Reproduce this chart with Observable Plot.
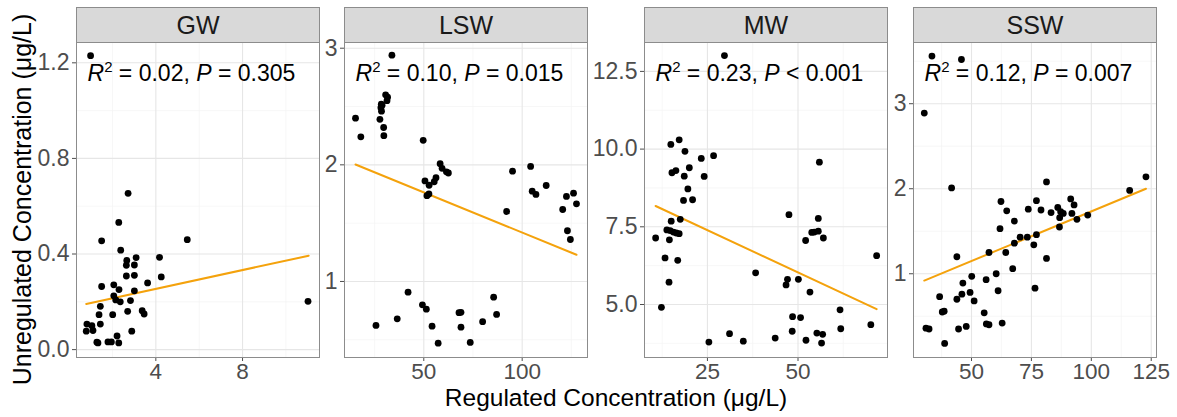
<!DOCTYPE html>
<html>
<head>
<meta charset="utf-8">
<script src="https://cdn.jsdelivr.net/npm/d3@7"></script>
<script src="https://cdn.jsdelivr.net/npm/@observablehq/plot@0.6"></script>
<style>
  html, body { margin: 0; padding: 0; background: #fff; }
  #wrap { position: relative; width: 1177px; height: 417px; overflow: hidden; background: #fff;
          font-family: "Liberation Sans", Arial, sans-serif; }
  #wrap svg { position: absolute; top: 0; }
  .strip { position: absolute; top: 7px; height: 36px; box-sizing: border-box; background: #d9d9d9;
           border: 1px solid #8c8c8c; color: #1a1a1a; font-size: 25px; line-height: 34px; text-align: center; }
  .xtitle { position: absolute; top: 388px; left: 316px; width: 600px; text-align: center; font-size: 24.5px; line-height: 20px; color: #000; }
  .ytitle { position: absolute; left: -188px; top: 187px; width: 420px; text-align: center; font-size: 25px; line-height: 25px;
            color: #000; transform: rotate(-90deg); transform-origin: 50% 50%; }
</style>
</head>
<body>
<div id="wrap"></div>
<script>
// ---------- data ----------
const panels = ["GW", "LSW", "MW", "SSW"];

const gwX = [0.99, 2.72, 2.29, 1.50, 5.45, 2.38, 2.66, 3.09, 2.64, 3.01, 4.17, 2.64, 3.01, 4.25, 3.62, 1.50, 2.06, 2.30, 3.01, 2.06, 2.15, 2.36, 2.83, 1.44, 2.70, 3.37, 3.46, 1.38, 2.01, 1.44, 0.82, 1.05, 1.10, 0.79, 2.89, 1.28, 1.33, 1.79, 1.95, 2.21, 2.29, 11.02];
const gwY = [1.23, 0.654, 0.532, 0.455, 0.46, 0.416, 0.373, 0.385, 0.353, 0.354, 0.386, 0.308, 0.311, 0.304, 0.279, 0.264, 0.271, 0.251, 0.246, 0.225, 0.208, 0.2, 0.205, 0.181, 0.16, 0.163, 0.149, 0.146, 0.146, 0.107, 0.107, 0.1, 0.08, 0.077, 0.077, 0.031, 0.028, 0.032, 0.032, 0.057, 0.028, 0.202];

const lswX = [33.8, 15.3, 18.0, 30.6, 31.6, 31.3, 28.4, 28.8, 28.2, 28.5, 27.7, 29.6, 29.7, 49.7, 58.3, 59.3, 61.5, 62.5, 56.2, 55.3, 52.7, 50.6, 51.6, 52.6, 92.1, 95.1, 104.3, 105.1, 107.0, 112.2, 120.6, 122.5, 126.1, 127.6, 123.0, 124.5, 25.7, 36.5, 42.0, 49.3, 51.3, 54.2, 57.3, 67.9, 68.9, 68.9, 73.6, 79.9, 85.5, 87.0];
const lswY = [2.94, 2.40, 2.24, 2.60, 2.58, 2.55, 2.52, 2.51, 2.49, 2.46, 2.39, 2.32, 2.25, 2.21, 2.01, 1.97, 1.94, 1.93, 1.89, 1.855, 1.825, 1.862, 1.736, 1.75, 1.60, 1.946, 1.986, 1.774, 1.746, 1.823, 1.617, 1.729, 1.757, 1.666, 1.435, 1.36, 0.623, 0.68, 0.908, 0.80, 0.762, 0.617, 0.471, 0.732, 0.735, 0.608, 0.477, 0.655, 0.865, 0.717];

const mwX = [29.7, 17.2, 14.9, 18.8, 23.3, 26.7, 15.2, 16.3, 20.0, 18.6, 24.1, 19.6, 18.4, 20.9, 15.0, 17.5, 13.8, 14.7, 15.6, 16.4, 17.2, 10.7, 14.5, 16.8, 13.3, 14.4, 12.3, 25.4, 31.1, 34.9, 38.3, 43.7, 47.5, 46.7, 47.1, 50.1, 48.5, 50.7, 48.4, 52.1, 53.8, 54.5, 55.6, 55.6, 55.9, 57.0, 53.3, 52.2, 55.2, 56.8, 56.5, 61.6, 61.8, 70.1, 71.7];
const mwY = [13.01, 10.30, 10.15, 9.93, 9.70, 9.79, 9.24, 9.31, 9.40, 9.13, 9.12, 8.72, 8.35, 8.37, 7.68, 7.74, 7.40, 7.38, 7.33, 7.30, 7.28, 7.14, 7.08, 6.42, 6.50, 5.72, 4.91, 3.79, 4.06, 3.82, 6.02, 3.92, 7.89, 5.63, 5.81, 5.81, 4.61, 4.58, 4.14, 7.06, 7.32, 7.33, 7.36, 7.77, 9.58, 7.14, 5.40, 3.85, 4.08, 4.04, 3.76, 4.83, 4.22, 4.35, 6.57];

const sswX = [33.5, 45.8, 30.3, 41.7, 81.3, 116.0, 122.8, 62.3, 64.7, 77.1, 79.0, 73.7, 83.2, 91.4, 92.8, 86.0, 87.2, 88.3, 86.8, 91.9, 94.0, 98.5, 86.7, 67.9, 61.9, 70.3, 73.3, 77.1, 67.9, 76.0, 57.3, 64.3, 81.3, 43.9, 67.2, 60.3, 50.1, 56.1, 46.4, 76.5, 61.1, 36.7, 46.0, 49.4, 43.9, 51.1, 37.8, 38.6, 55.3, 56.2, 57.3, 62.8, 31.0, 32.3, 44.6, 47.8, 38.8];
const sswY = [3.56, 3.52, 2.89, 2.01, 2.08, 1.98, 2.14, 1.85, 1.74, 1.86, 1.75, 1.76, 1.72, 1.88, 1.81, 1.78, 1.73, 1.71, 1.66, 1.71, 1.64, 1.69, 1.55, 1.62, 1.53, 1.43, 1.43, 1.46, 1.36, 1.34, 1.25, 1.25, 1.18, 1.20, 1.06, 1.00, 0.97, 0.93, 0.89, 0.83, 0.80, 0.73, 0.76, 0.78, 0.70, 0.68, 0.55, 0.56, 0.54, 0.41, 0.40, 0.42, 0.36, 0.35, 0.35, 0.38, 0.18];

// fitted regression line end points
const gwFitX = [0.79, 11.05],  gwFitY = [0.191, 0.393];
const lswFitX = [15.3, 127.6], lswFitY = [2.003, 1.229];
const mwFitX = [10.7, 71.7],   mwFitY = [8.17, 4.85];
const sswFitX = [30.3, 122.8], sswFitY = [0.92, 2.00];

// annotation parts
const annR2 = ["0.02", "0.10", "0.23", "0.12"];
const annPOp = ["=", "=", "<", "="];
const annP  = ["0.305", "0.015", "0.001", "0.007"];

// tick values
const gwXTicks = [4, 8],            gwXMinor = [2, 6, 10];
const gwYTicks = [0, 0.4, 0.8, 1.2], gwYMinor = [0.2, 0.6, 1.0];
const lswXTicks = [50, 100],        lswXMinor = [25, 75, 125];
const lswYTicks = [1, 2, 3],        lswYMinor = [0.5, 1.5, 2.5];
const mwXTicks = [25, 50],          mwXMinor = [12.5, 37.5, 62.5];
const mwYTicks = [5, 7.5, 10, 12.5], mwYMinor = [3.75, 6.25, 8.75, 11.25];
const sswXTicks = [50, 75, 100, 125], sswXMinor = [37.5, 62.5, 87.5, 112.5];
const sswYTicks = [1, 2, 3],        sswYMinor = [0.5, 1.5, 2.5, 3.5];

// scale domains (panel extents)
const gwXDomain = [0.34, 11.55],  gwYDomain = [-0.033, 1.285];
const lswXDomain = [9.7, 133.2],  lswYDomain = [0.348, 3.049];
const mwXDomain = [7.63, 74.7],   mwYDomain = [3.295, 13.43];
const sswXDomain = [25.8, 127.2], sswYDomain = [0.015, 3.72];

const xTitle = "Regulated Concentration (μg/L)";
const yTitle = "Unregulated Concentration (μg/L)";

// ---------- layout ----------
const panelLeft = [76, 344, 644, 913];
const panelW = 243;
const marginLeft = [76, 30, 56, 30];
const marginRight = 12;

const cfgs = [
  {x: gwX, y: gwY, fx: gwFitX, fy: gwFitY, xt: gwXTicks, xm: gwXMinor, yt: gwYTicks, ym: gwYMinor, xd: gwXDomain, yd: gwYDomain, yf: d3.format(".1f")},
  {x: lswX, y: lswY, fx: lswFitX, fy: lswFitY, xt: lswXTicks, xm: lswXMinor, yt: lswYTicks, ym: lswYMinor, xd: lswXDomain, yd: lswYDomain, yf: d3.format("d")},
  {x: mwX, y: mwY, fx: mwFitX, fy: mwFitY, xt: mwXTicks, xm: mwXMinor, yt: mwYTicks, ym: mwYMinor, xd: mwXDomain, yd: mwYDomain, yf: d3.format(".1f")},
  {x: sswX, y: sswY, fx: sswFitX, fy: sswFitY, xt: sswXTicks, xm: sswXMinor, yt: sswYTicks, ym: sswYMinor, xd: sswXDomain, yd: sswYDomain, yf: d3.format("d")}
];

const wrap = document.getElementById("wrap");
const FONT = "Liberation Sans, Arial, sans-serif";

cfgs.forEach((c, i) => {
  const pts = c.x.map((x, k) => ({x, y: c.y[k]}));
  const fit = c.fx.map((x, k) => ({x, y: c.fy[k]}));
  const ann = [`R² = ${annR2[i]}, P ${annPOp[i]} ${annP[i]}`];
  const ml = marginLeft[i];
  const svg = Plot.plot({
    width: ml + panelW + marginRight,
    height: 390,
    marginLeft: ml, marginRight: marginRight, marginTop: 42, marginBottom: 33,
    x: {domain: c.xd, label: null},
    y: {domain: c.yd, label: null},
    style: {background: "transparent", fontFamily: FONT, fontSize: "23px", overflow: "visible"},
    marks: [
      Plot.gridX(c.xm, {stroke: "#f3f3f3", strokeOpacity: 1, strokeWidth: 0.7}),
      Plot.gridY(c.ym, {stroke: "#f3f3f3", strokeOpacity: 1, strokeWidth: 0.7}),
      Plot.gridX(c.xt, {stroke: "#e6e6e6", strokeOpacity: 1, strokeWidth: 1.1}),
      Plot.gridY(c.yt, {stroke: "#e6e6e6", strokeOpacity: 1, strokeWidth: 1.1}),
      Plot.axisX(c.xt, {tickSize: 4, tickPadding: 2, color: "#4d4d4d", fontSize: 22.5, label: null, tickFormat: d3.format("d")}),
      Plot.axisY(c.yt, {tickSize: 4, tickPadding: 3, color: "#4d4d4d", fontSize: 23, label: null, tickFormat: c.yf}),
      Plot.line(fit, {x: "x", y: "y", stroke: "#f4a20c", strokeWidth: 2}),
      Plot.dot(pts, {x: "x", y: "y", r: 3.4, fill: "#000", stroke: null}),
      Plot.frame({stroke: "#8c8c8c", strokeWidth: 1}),
      Plot.text(ann, {frameAnchor: "top-left", dx: 11, dy: 22, lineAnchor: "top", textAnchor: "start", fontSize: 23, fill: "#000", ariaLabel: "annotation"})
    ]
  });
  svg.style.left = (panelLeft[i] - ml) + "px";
  wrap.appendChild(svg);

  // rich formatting of the statistic label: italic R and P, superscript 2
  svg.querySelectorAll("text").forEach(t => {
    if (t.textContent !== ann[0]) return;
    const ns = "http://www.w3.org/2000/svg";
    while (t.firstChild) t.removeChild(t.firstChild);
    const parts = [
      ["R", {"font-style": "italic"}],
      ["2", {"font-size": "15px", "dy": "-9"}],
      [` = ${annR2[i]}, `, {"dy": "9"}],
      ["P", {"font-style": "italic"}],
      [` ${annPOp[i]} ${annP[i]}`, {}]
    ];
    parts.forEach(([s, attrs]) => {
      const ts = document.createElementNS(ns, "tspan");
      ts.textContent = s;
      for (const k in attrs) ts.setAttribute(k, attrs[k]);
      t.appendChild(ts);
    });
  });

  const strip = document.createElement("div");
  strip.className = "strip";
  strip.style.left = panelLeft[i] + "px";
  strip.style.width = (panelW + 1) + "px";
  strip.textContent = panels[i];
  wrap.appendChild(strip);
});

const xt = document.createElement("div");
xt.className = "xtitle";
xt.textContent = xTitle;
wrap.appendChild(xt);

const yt = document.createElement("div");
yt.className = "ytitle";
yt.textContent = yTitle;
wrap.appendChild(yt);
</script>
</body>
</html>
